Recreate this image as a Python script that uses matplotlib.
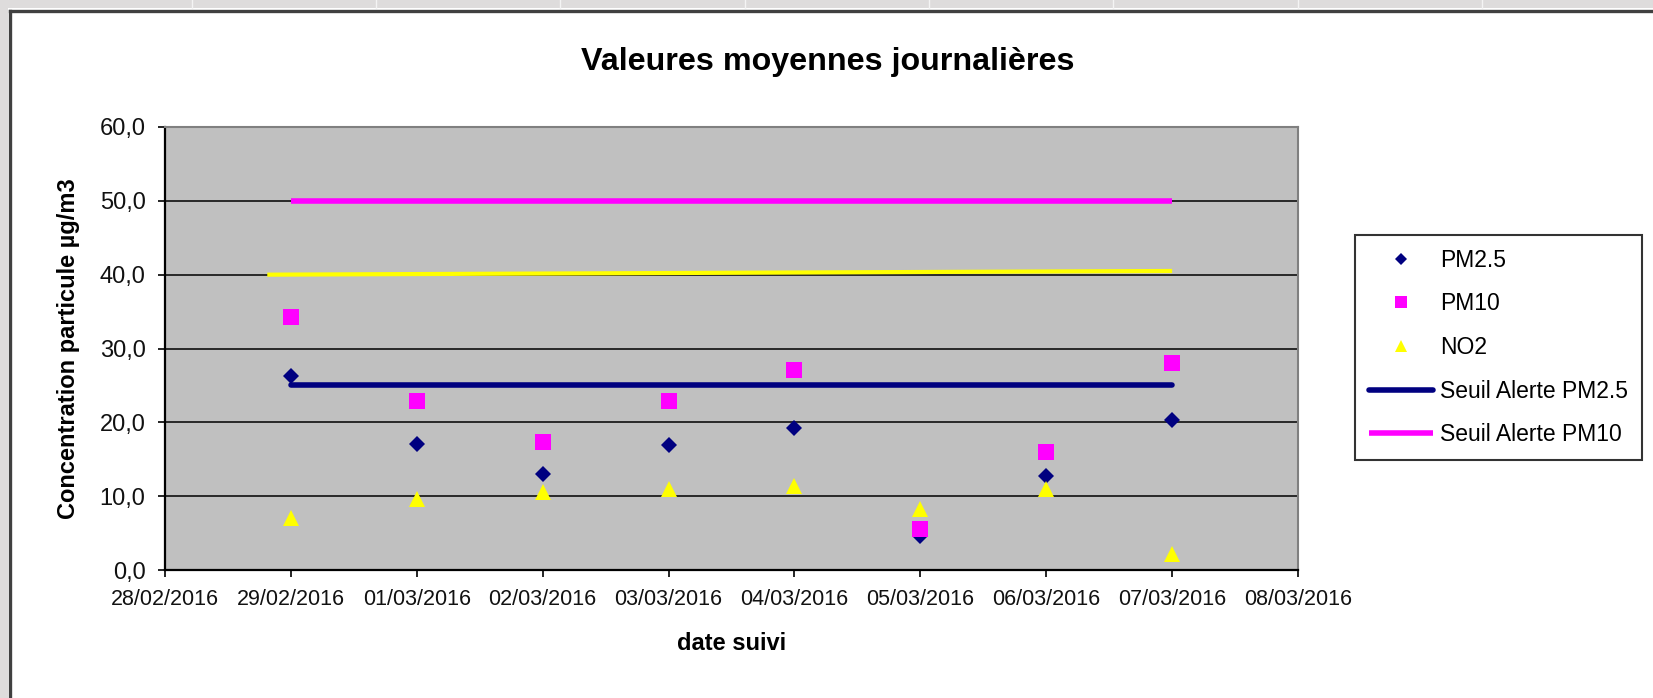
import matplotlib
matplotlib.use("Agg")
import matplotlib.pyplot as plt
import matplotlib.dates as mdates
import matplotlib.ticker as mticker
from matplotlib.lines import Line2D
from matplotlib.patches import Rectangle
import numpy as np
import pandas as pd

plt.rcParams['font.family'] = ['Liberation Sans', 'DejaVu Sans']

# ---- data ----
dates = ["2016-02-29", "2016-03-01", "2016-03-02", "2016-03-03",
         "2016-03-04", "2016-03-05", "2016-03-06", "2016-03-07"]
pm25 = [26.3, 17.1, 13.0, 16.9, 19.3, 4.6, 12.7, 20.3]
pm10 = [34.3, 22.9, 17.4, 22.9, 27.1, 5.6, 16.0, 28.0]
no2 = [7.1, 9.6, 10.6, 11.0, 11.4, 8.3, 11.0, 2.1]
seuil_pm25 = [25.0, 25.0]
seuil_pm10 = [50.0, 50.0]
seuil_dates = ["2016-02-29", "2016-03-07"]
no2_line_dates = ["2016-02-28 19:30", "2016-03-07 00:00"]
no2_line_vals = [40.0, 40.5]
x_min, x_max = "2016-02-28", "2016-03-08"
y_ticks = [0, 10, 20, 30, 40, 50, 60]

title = "Valeures moyennes journalières"
xlabel = "date suivi"
ylabel = "Concentration particule µg/m3"
labels = ["PM2.5", "PM10", "NO2", "Seuil Alerte PM2.5", "Seuil Alerte PM10"]

d = pd.to_datetime(dates)
sd = pd.to_datetime(seuil_dates)
nd = pd.to_datetime(no2_line_dates, format="%Y-%m-%d %H:%M")

W, H = 1653, 698
fig = plt.figure(figsize=(W / 100, H / 100), dpi=100)
fig.patch.set_facecolor("white")

# spreadsheet-like surroundings
fig.add_artist(Rectangle((0, 1 - 8 / H), 1, 8 / H, transform=fig.transFigure,
                         facecolor="#dedcdc", edgecolor="none", zorder=0))
fig.add_artist(Rectangle((0, 0), 8 / W, 1, transform=fig.transFigure,
                         facecolor="#dedcdc", edgecolor="none", zorder=0))
for cx in [192, 376, 560, 745, 929, 1113, 1298, 1482]:
    fig.add_artist(Line2D([cx / W, cx / W], [1 - 8 / H, 1], transform=fig.transFigure,
                          color="#f4f4f4", lw=1.0, zorder=1))
fig.add_artist(Line2D([9.5 / W, 1], [1 - 11 / H, 1 - 11 / H], transform=fig.transFigure,
                      color="#404040", lw=2.4, zorder=2))
fig.add_artist(Line2D([10 / W, 10 / W], [0, 1 - 11 / H], transform=fig.transFigure,
                      color="#404040", lw=2.4, zorder=2))

L, R, T, B = 165, 1298, 127, 570
ax = fig.add_axes([L / W, 1 - B / H, (R - L) / W, (B - T) / H])
ax.set_facecolor("#c0c0c0")

ax.set_xlim(pd.Timestamp(x_min), pd.Timestamp(x_max))
ax.set_ylim(0, 60)
ax.set_yticks(y_ticks)
ax.yaxis.set_major_formatter(mticker.FuncFormatter(lambda v, p: f"{v:.1f}".replace(".", ",")))
ax.xaxis.set_major_locator(mdates.DayLocator())
ax.xaxis.set_major_formatter(mdates.DateFormatter("%d/%m/%Y"))

for yv in y_ticks[1:-1]:
    ax.axhline(yv, color="black", lw=1.1, zorder=1)

ax.plot(nd, no2_line_vals, color="#ffff00", lw=3.0, solid_capstyle="butt", zorder=2)
l_pm25, = ax.plot(sd, seuil_pm25, color="#000080", lw=4.0, solid_capstyle="round", zorder=3)
l_pm10, = ax.plot(sd, seuil_pm10, color="#ff00ff", lw=4.0, solid_capstyle="butt", zorder=3)

s_pm25, = ax.plot(d, pm25, linestyle="none", marker="D", markersize=8.0,
                  color="#000080", markeredgewidth=0, zorder=4)
s_pm10, = ax.plot(d, pm10, linestyle="none", marker="s", markersize=11.2,
                  color="#ff00ff", markeredgewidth=0, zorder=4)
s_no2, = ax.plot(d, no2, linestyle="none", marker="^", markersize=11.0,
                 color="#ffff00", markeredgewidth=0, zorder=4)

for side in ["top", "right"]:
    ax.spines[side].set_color("#808080")
    ax.spines[side].set_linewidth(1.5)
for side in ["left", "bottom"]:
    ax.spines[side].set_color("black")
    ax.spines[side].set_linewidth(1.6)

ax.tick_params(axis="both", direction="out", length=5, width=1.2, colors="black",
               labelcolor="#111111")
ax.tick_params(axis="y", labelsize=17, pad=9)
ax.tick_params(axis="x", labelsize=15.5, pad=8.5)

ax.set_xlabel(xlabel, fontsize=17, fontweight="bold", labelpad=16)
ax.set_ylabel(ylabel, fontsize=17, fontweight="bold", labelpad=14)
fig.text(828 / W, 1 - 62 / H, title, fontsize=23.2, fontweight="bold",
         ha="center", va="center")

leg = fig.legend([s_pm25, s_pm10, s_no2, l_pm25, l_pm10], labels,
                 loc="upper left", bbox_to_anchor=(1355 / W, 1 - 235 / H),
                 fontsize=16.5, frameon=True, fancybox=False, shadow=False,
                 markerscale=0.75, handlelength=2.8, handletextpad=0.3,
                 labelspacing=0.9, borderpad=0.6, borderaxespad=0)
leg.get_frame().set_edgecolor("black")
leg.get_frame().set_linewidth(1.5)

fig.savefig("out.png", dpi=100)
